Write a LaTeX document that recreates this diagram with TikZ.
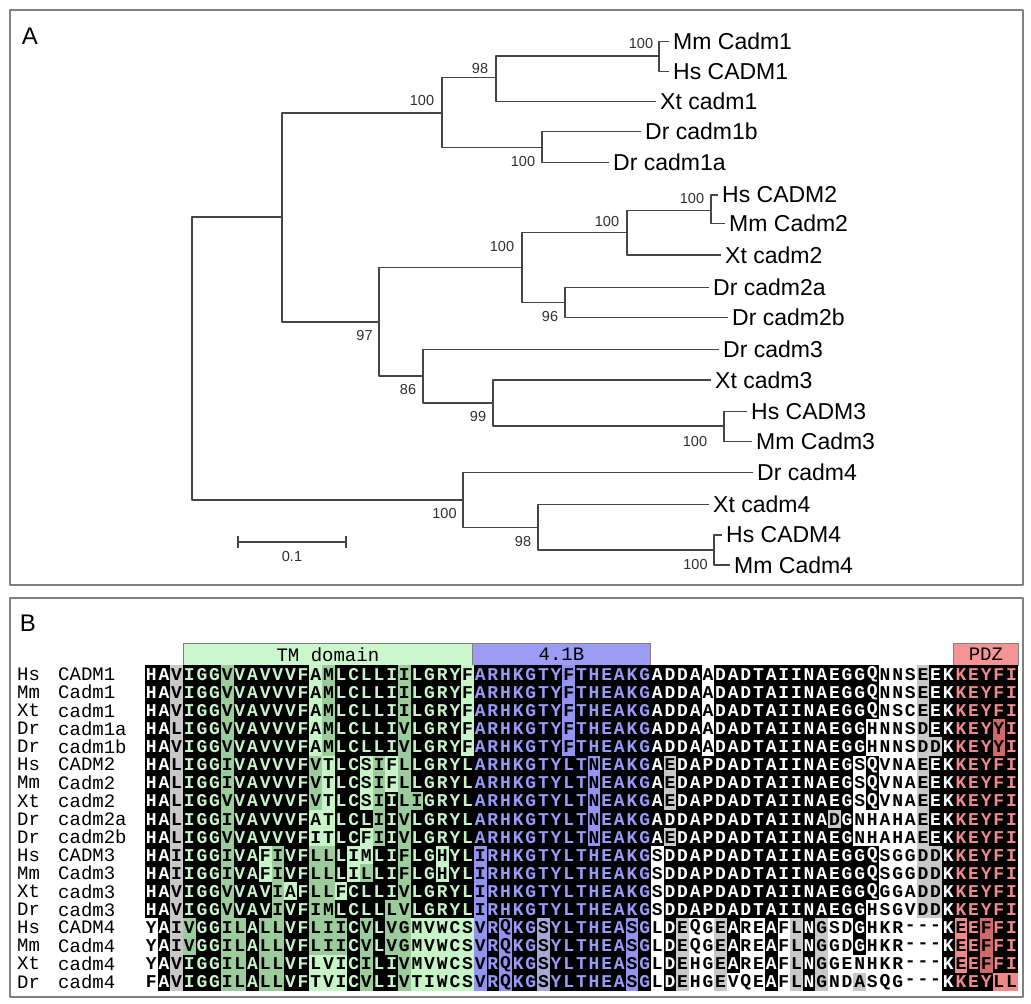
\documentclass[tikz,border=0pt]{standalone}
\usepackage{fontspec}
\setmainfont{Liberation Sans}
\newfontfamily\alnfont{Liberation Mono}
\usepackage{xstring}
\usetikzlibrary{positioning}

\definecolor{framegray}{HTML}{808080}
\definecolor{treegray}{HTML}{454545}
\definecolor{bootgray}{HTML}{303030}
\definecolor{tmhead}{HTML}{CCF7CC}
\definecolor{fbhead}{HTML}{9C9CF5}
\definecolor{pdzhead}{HTML}{F59494}
% cell fills (b = identical, s = similar, n = other) and their letter colours
\definecolor{plainb}{HTML}{000000}\definecolor{plainbtx}{HTML}{FFFFFF}
\definecolor{plains}{HTML}{C8C8C8}\definecolor{plainstx}{HTML}{000000}
\definecolor{plainn}{HTML}{FFFFFF}\definecolor{plainntx}{HTML}{000000}
\definecolor{tmb}{HTML}{000000}\definecolor{tmbtx}{HTML}{C8F5C8}
\definecolor{tms}{HTML}{9CCB9C}\definecolor{tmstx}{HTML}{000000}
\definecolor{tmn}{HTML}{C8F5C8}\definecolor{tmntx}{HTML}{000000}
\definecolor{fbb}{HTML}{000000}\definecolor{fbbtx}{HTML}{9A9AF8}
\definecolor{fbs}{HTML}{A8A8D6}\definecolor{fbstx}{HTML}{000000}
\definecolor{fbn}{HTML}{9494F0}\definecolor{fbntx}{HTML}{000000}
\definecolor{pdzb}{HTML}{000000}\definecolor{pdzbtx}{HTML}{F08A8A}
\definecolor{pdzs}{HTML}{D06A6A}\definecolor{pdzstx}{HTML}{000000}
\definecolor{pdzn}{HTML}{F08A8A}\definecolor{pdzntx}{HTML}{000000}

\newcommand\regof[1]{\ifnum#1<3 plain\else\ifnum#1<26 tm\else\ifnum#1<40 fb\else\ifnum#1<64 plain\else pdz\fi\fi\fi\fi}

\begin{document}
\begin{tikzpicture}[x=1pt,y=-1pt,line join=round,
  branch/.style={draw=treegray,line width=1.4pt,line cap=rect},
  panel/.style={draw=framegray,line width=1.5pt},
  panellab/.style={inner sep=0pt,font=\fontsize{24}{24}\selectfont},
  leaf/.style={inner sep=0pt,font=\fontsize{23}{23}\selectfont},
  boot/.style={inner sep=0pt,text=bootgray,font=\fontsize{14.5}{14.5}\selectfont},
  seqlab/.style={anchor=west,inner sep=0pt,font=\alnfont\fontsize{19}{19}\selectfont},
  cell/.style={inner sep=0pt,font=\alnfont\bfseries\fontsize{18}{18}\selectfont},
  domainbox/.style={draw=gray,line width=0.8pt,anchor=north west,inner sep=0pt,
    minimum height=22pt,font=\alnfont\fontsize{19}{19}\selectfont}]
  \useasboundingbox (0,0) rectangle (1031,1004);
  \fill[white] (0,0) rectangle (1031,1004);
  \draw[panel] (10,10) rectangle (1023,585);
  \draw[panel] (10,598) rectangle (1023,997);
  \node[panellab] (labA) at (30,36) {A};
  \node[panellab] (labB) at (28,623) {B};

  \coordinate (r0) at (192,358.5);
  \coordinate (n1) at (282,217);
  \coordinate (n2) at (442,113);
  \coordinate (n3) at (496,77.7);
  \coordinate (n5) at (659,56);
  \coordinate (n4) at (542,147.3);
  \coordinate (n7) at (379,322);
  \coordinate (n8) at (522,267.7);
  \coordinate (n9) at (627,232.3);
  \coordinate (n10) at (711,210.7);
  \coordinate (n11) at (565,302.3);
  \coordinate (n12) at (423,376);
  \coordinate (n13) at (493,403);
  \coordinate (n14) at (724,426);
  \coordinate (n15) at (463,500);
  \coordinate (n16) at (538,527.3);
  \coordinate (n17) at (714,550);
  \coordinate (l1) at (668,41.7);
  \coordinate (l2) at (668,71.7);
  \coordinate (l3) at (655,101.7);
  \coordinate (l4) at (640,131.7);
  \coordinate (l5) at (608,162.7);
  \coordinate (l6) at (717,195);
  \coordinate (l7) at (724,223.3);
  \coordinate (l8) at (720,255);
  \coordinate (l9) at (708,287.7);
  \coordinate (l10) at (727,317.7);
  \coordinate (l11) at (718,349.3);
  \coordinate (l12) at (710,380);
  \coordinate (l13) at (746,411.7);
  \coordinate (l14) at (751,441.7);
  \coordinate (l15) at (752,472.7);
  \coordinate (l16) at (708,504.3);
  \coordinate (l17) at (721,535);
  \coordinate (l18) at (729,565);

  \draw[branch] (r0) |- (n1);
  \draw[branch] (r0) |- (n15);
  \draw[branch] (n1) |- (n2);
  \draw[branch] (n1) |- (n7);
  \draw[branch] (n2) |- (n3);
  \draw[branch] (n2) |- (n4);
  \draw[branch] (n3) |- (n5);
  \draw[branch] (n3) |- (l3);
  \draw[branch] (n5) |- (l1);
  \draw[branch] (n5) |- (l2);
  \draw[branch] (n4) |- (l4);
  \draw[branch] (n4) |- (l5);
  \draw[branch] (n7) |- (n8);
  \draw[branch] (n7) |- (n12);
  \draw[branch] (n8) |- (n9);
  \draw[branch] (n8) |- (n11);
  \draw[branch] (n9) |- (n10);
  \draw[branch] (n9) |- (l8);
  \draw[branch] (n10) |- (l6);
  \draw[branch] (n10) |- (l7);
  \draw[branch] (n11) |- (l9);
  \draw[branch] (n11) |- (l10);
  \draw[branch] (n12) |- (l11);
  \draw[branch] (n12) |- (n13);
  \draw[branch] (n13) |- (l12);
  \draw[branch] (n13) |- (n14);
  \draw[branch] (n14) |- (l13);
  \draw[branch] (n14) |- (l14);
  \draw[branch] (n15) |- (l15);
  \draw[branch] (n15) |- (n16);
  \draw[branch] (n16) |- (l16);
  \draw[branch] (n16) |- (n17);
  \draw[branch] (n17) |- (l17);
  \draw[branch] (n17) |- (l18);

  \node[leaf,right=5pt of l1] (t1) {Mm Cadm1};
  \node[leaf,right=5pt of l2] (t2) {Hs CADM1};
  \node[leaf,right=5pt of l3] (t3) {Xt cadm1};
  \node[leaf,right=5pt of l4] (t4) {Dr cadm1b};
  \node[leaf,right=5pt of l5] (t5) {Dr cadm1a};
  \node[leaf,right=5pt of l6] (t6) {Hs CADM2};
  \node[leaf,right=5pt of l7] (t7) {Mm Cadm2};
  \node[leaf,right=5pt of l8] (t8) {Xt cadm2};
  \node[leaf,right=5pt of l9] (t9) {Dr cadm2a};
  \node[leaf,right=5pt of l10] (t10) {Dr cadm2b};
  \node[leaf,right=5pt of l11] (t11) {Dr cadm3};
  \node[leaf,right=5pt of l12] (t12) {Xt cadm3};
  \node[leaf,right=5pt of l13] (t13) {Hs CADM3};
  \node[leaf,right=5pt of l14] (t14) {Mm Cadm3};
  \node[leaf,right=5pt of l15] (t15) {Dr cadm4};
  \node[leaf,right=5pt of l16] (t16) {Xt cadm4};
  \node[leaf,right=5pt of l17] (t17) {Hs CADM4};
  \node[leaf,right=5pt of l18] (t18) {Mm Cadm4};

  \node[boot] (b2) at (422,101) {100};
  \node[boot] (b3) at (480,68.5) {98};
  \node[boot] (b5) at (641,43.5) {100};
  \node[boot] (b4) at (523,162) {100};
  \node[boot] (b8) at (502,247) {100};
  \node[boot] (b9) at (607,222) {100};
  \node[boot] (b10) at (692,199) {100};
  \node[boot] (b11) at (550,317) {96};
  \node[boot] (b7) at (364.5,336) {97};
  \node[boot] (b12) at (408,390) {86};
  \node[boot] (b13) at (478,417) {99};
  \node[boot] (b14) at (695,442) {100};
  \node[boot] (b15) at (444.5,514) {100};
  \node[boot] (b16) at (523,542) {98};
  \node[boot] (b17) at (695.5,565) {100};

  \coordinate (s0) at (238,542);
  \coordinate (s1) at (346,542);
  \draw[branch,line width=1.2pt] (s0) -- (s1);
  \draw[branch,line width=1.2pt] (s0) ++(0,-5) -- ++(0,10);
  \draw[branch,line width=1.2pt] (s1) ++(0,-5) -- ++(0,10);
  \node[boot] (sbl) at (292,557) {0.1};

  \node[domainbox,fill=tmhead,minimum width=289pt] (tm) at (183,643) {TM domain};
  \node[domainbox,fill=fbhead,minimum width=178pt] (fb) at (472,643) {4.1B};
  \node[domainbox,fill=pdzhead,minimum width=65pt] (pdz) at (953,643) {PDZ};

  \foreach \spc/\gen/\sqraw/\clraw [count=\row from 0] in {
    Hs/CADM1/HAV|IGGVVAVVVFAMLCLLIILGRYF|ARHKGTYFTHEAKG|ADDAADADTAIINAEGGQNNSEEK|KEYFI/bbsbbbsbbb|bbbnsbbbbb|sbbbbnbbbb|bbbnbbbbbb|bbbbnbbbbb|bbbbbbbbnn|nsbbbbbbb,
    Mm/Cadm1/HAV|IGGVVAVVVFAMLCLLIILGRYF|ARHKGTYFTHEAKG|ADDAADADTAIINAEGGQNNSEEK|KEYFI/bbsbbbsbbb|bbbnsbbbbb|sbbbbnbbbb|bbbnbbbbbb|bbbbnbbbbb|bbbbbbbbnn|nsbbbbbbb,
    Xt/cadm1/HAV|IGGVVAVVVFAMLCLLIILGRYF|ARHKGTYFTHEAKG|ADDAADADTAIINAEGGQNSCEEK|KEYFI/bbsbbbsbbb|bbbnsbbbbb|sbbbbnbbbb|bbbnbbbbbb|bbbbnbbbbb|bbbbbbbbnn|nsbbbbbbb,
    Dr/cadm1a/HAL|IGGVVAVVVFAMLCLLIVLGRYF|ARHKGTYFTHEAKG|ADDAADADTAIINAEGGHNNSDEK|KEYYI/bbsbbbsbbb|bbbnsbbbbb|sbbbbnbbbb|bbbnbbbbbb|bbbbnbbbbb|bbbbbbbnnn|nsbbbbbsb,
    Dr/cadm1b/HAV|IGGVVAVVVFAMLCLLIVLGRYF|ARHKGTYFTHEAKG|ADDAADADTAIINAEGGHNNSDDK|KEYYI/bbsbbbsbbb|bbbnsbbbbb|sbbbbnbbbb|bbbnbbbbbb|bbbbnbbbbb|bbbbbbbnnn|nssbbbbsb,
    Hs/CADM2/HAL|IGGIVAVVVFVTLCSIFLLGRYL|ARHKGTYLTNEAKG|AEDAPDADTAIINAEGSQVNAEEK|KEYFI/bbsbbbsbbb|bbbsnbbnsn|sbbbbbbbbb|bbbbbnbbbb|bsbbbbbbbb|bbbbbbnbnn|nsbbbbbbb,
    Mm/Cadm2/HAL|IGGIVAVVVFVTLCSIFLLGRYL|ARHKGTYLTNEAKG|AEDAPDADTAIINAEGSQVNAEEK|KEYFI/bbsbbbsbbb|bbbsnbbnsn|sbbbbbbbbb|bbbbbnbbbb|bsbbbbbbbb|bbbbbbnbnn|nsbbbbbbb,
    Xt/cadm2/HAL|IGGVVAVVVFVTLCSIILIGRYL|ARHKGTYLTNEAKG|AEDAPDADTAIINAEGSQVNAEEK|KEYFI/bbsbbbsbbb|bbbsnbbnsb|ssbbbbbbbb|bbbbbnbbbb|bsbbbbbbbb|bbbbbbnbnn|nsbbbbbbb,
    Dr/cadm2a/HAL|IGGIVAVVVFATLCLIIVLGRYL|ARHKGTYLTNEAKG|ADDAPDADTAIINADGNHAHAEEK|KEYFI/bbsbbbsbbb|bbbnnbbbsb|sbbbbbbbbb|bbbbbnbbbb|bbbbbbbbbb|bbbbsbnnnn|nsbbbbbbb,
    Dr/cadm2b/HAL|IGGVVAVVVFITLCFIIVLGRYL|ARHKGTYLTNEAKG|AEDAPDADTAIINAEGNHAHAEEK|KEYFI/bbsbbbsbbb|bbbnnbbnsb|sbbbbbbbbb|bbbbbnbbbb|bsbbbbbbbb|bbbbbbnnnn|nsbbbbbbb,
    Hs/CADM3/HAI|IGGIVAFIVFLLLIMLIFLGHYL|IRHKGTYLTHEAKG|SDDAPDADTAIINAEGGQSGGDDK|KEYFI/bbsbbbsbbn|sbbssbnnbb|sbbnbbnbbb|bbbbbbbbbb|nbbbbbbbbb|bbbbbbbbnn|nssbbbbbb,
    Mm/Cadm3/HAI|IGGIVAFIVFLLLILLIFLGHYL|IRHKGTYLTHEAKG|SDDAPDADTAIINAEGGQSGGDDK|KEYFI/bbsbbbsbbn|sbbssbnsbb|sbbnbbnbbb|bbbbbbbbbb|nbbbbbbbbb|bbbbbbbbnn|nssbbbbbb,
    Xt/cadm3/HAV|IGGVVAVIAFLLFCLLIVLGRYL|IRHKGTYLTHEAKG|SDDAPDADTAIINAEGGQGGADDK|KEYFI/bbsbbbsbbb|snbssnbbbb|sbbbbbnbbb|bbbbbbbbbb|nbbbbbbbbb|bbbbbbbbnn|nssbbbbbb,
    Dr/cadm3/HAV|IGGVVAVIVFIMLCLLLVLGRYL|IRHKGTYLTHEAKG|SDDAPDADTAIINAEGGHSGVDDK|KEYFI/bbsbbbsbbb|sbbssbbbbs|sbbbbbnbbb|bbbbbbbbbb|nbbbbbbbbb|bbbbbbbnnn|nssbbbbbb,
    Hs/CADM4/YAI|VGGILALLVFLIICVLVGMVWCS|VRQKGSYLTHEASG|LDEQGEAREAFLNGSDGHKR---K|EEFFI/nbssbbssbs|sbbsssbsbs|snnnnnnbnb|bsbbbbbbnb|nbsnnsbnnb|nsbsnnbnnn|nnnbnbsbb,
    Mm/Cadm4/YAI|VGGILALLVFLIICVLVGMVWCS|VRQKGSYLTHEASG|LDEQGEAREAFLNGGDGHKR---K|EEFFI/nbssbbssbs|sbbsssbsbs|snnnnnnbnb|bsbbbbbbnb|nbsnnsbnnb|nsbsnnbnnn|nnnbnbsbb,
    Xt/cadm4/YAV|IGGILALLVFLVICILIVMVWCS|VRQKGSYLTHEASG|LDEHGEAREAFLNGGENHKR---K|EEFFI/nbsbbbssbs|sbbnnnbsbb|snnnnnnbnb|bsbbbbbbnb|nbsnnsbnnb|nsbsnnnnnn|nnnbnbsbb,
    Dr/cadm4/FAV|IGGILALLVFTVICVLIVTIWCS|VRQKGSYLTHEASG|LDEHGEVQEAFLNGNDASQG---K|KEYLL/nbsbbbssbs|sbbnnnbsbb|snnnnnnbnb|bsbbbbbbnb|nbsnnsnnnb|nsbsnnsnnn|nnnbbbbnn}{
    \StrDel{\sqraw}{|}[\sq]
    \StrDel{\clraw}{|}[\cl]
    \pgfmathsetmacro\ry{665+18.1*\row}
    \node[seqlab] (sp\row) at (17,\ry+9.05) {\spc};
    \node[seqlab] (gn\row) at (58,\ry+9.05) {\gen};
    \foreach \kk in {1,...,69}{
      \StrChar{\sq}{\kk}[\letr]
      \StrChar{\cl}{\kk}[\cls]
      \ifx\cls\empty\def\cls{n}\fi
      \pgfmathtruncatemacro\col{\kk-1}
      \pgfmathsetmacro\cx{145+12.65*\col}
      \edef\fc{\regof{\col}\cls}
      \edef\tc{\fc tx}
      \fill[fill=\fc] (\cx,\ry) rectangle ++(12.95,18.4);
      \node[cell,text=\tc] at (\cx+6.325,\ry+9.3) {\letr};
    }
  }
\end{tikzpicture}
\end{document}
